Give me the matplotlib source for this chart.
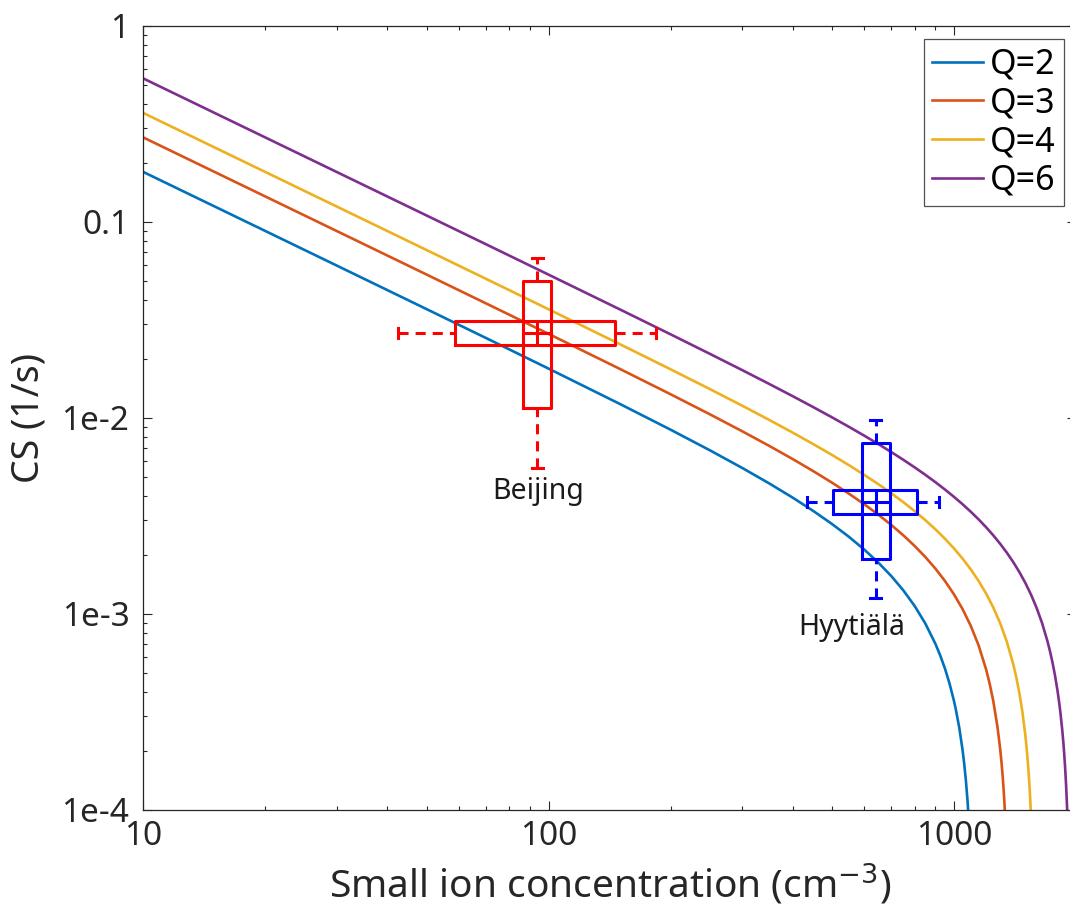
import matplotlib
matplotlib.use("Agg")
import matplotlib.pyplot as plt
from matplotlib.ticker import FixedLocator, LogLocator, NullFormatter

plt.rcParams['font.family'] = ['Noto Sans', 'DejaVu Sans']

# ---------------- data ----------------
n_q2 = [10, 15, 20, 30, 50, 70, 100, 150, 200, 250, 300, 350, 400, 450, 500, 550,
        600, 650, 700, 750, 800, 850, 900, 925, 950, 975, 1000, 1010, 1030, 1050,
        1060, 1070, 1080, 1090]
cs_q2 = [0.18, 0.11998, 0.08997, 0.05996, 0.03593, 0.025613, 0.017856, 0.011784,
         0.008712, 0.00684, 0.005568, 0.0046389, 0.003924, 0.003352, 0.00288,
         0.0024807, 0.002136, 0.0018332, 0.0015634, 0.00132, 0.001098, 0.0008936,
         0.000704, 0.0006139, 0.0005267, 0.0004422, 0.00036, 0.0003278, 0.0002644,
         0.0002023, 0.0001717, 0.0001414, 0.0001115, 0.0000818]

n_q3 = [10, 15, 20, 30, 50, 70, 100, 150, 200, 250, 300, 350, 400, 450, 500, 550,
        600, 650, 700, 750, 800, 850, 900, 950, 1000, 1050, 1100, 1150, 1200, 1225,
        1250, 1280, 1300, 1310, 1320, 1330, 1340]
cs_q3 = [0.26999, 0.17998, 0.13497, 0.08996, 0.05393, 0.03847, 0.026856, 0.017784,
         0.013212, 0.01044, 0.008568, 0.0072103, 0.006174, 0.005352, 0.00468,
         0.0041171, 0.003636, 0.0032178, 0.0028491, 0.00252, 0.002223, 0.0019525,
         0.001704, 0.0014741, 0.00126, 0.0010594, 0.0008705, 0.0006918, 0.000522,
         0.0004401, 0.00036, 0.0002662, 0.0002049, 0.0001747, 0.0001447, 0.0001149,
         0.0000853]

n_q4 = [10, 15, 20, 30, 50, 70, 100, 150, 200, 250, 300, 350, 400, 450, 500, 550,
        600, 650, 700, 750, 800, 850, 900, 950, 1000, 1050, 1100, 1150, 1200, 1250,
        1300, 1350, 1400, 1425, 1450, 1475, 1500, 1510, 1520, 1530, 1540, 1550]
cs_q4 = [0.35999, 0.23998, 0.17997, 0.11996, 0.07193, 0.051328, 0.035856, 0.023784,
         0.017712, 0.01404, 0.011568, 0.0097817, 0.008424, 0.007352, 0.00648,
         0.0057535, 0.005136, 0.0046025, 0.0041349, 0.00372, 0.003348, 0.0030113,
         0.002704, 0.0024215, 0.00216, 0.0019166, 0.0016887, 0.0014744, 0.001272,
         0.00108, 0.0008972, 0.0007227, 0.0005554, 0.0004743, 0.0003948, 0.0003167,
         0.00024, 0.0002097, 0.0001796, 0.0001497, 0.0001201, 0.0000906]

n_q6 = [10, 15, 20, 30, 50, 70, 100, 150, 200, 250, 300, 350, 400, 450, 500, 550,
        600, 650, 700, 750, 800, 850, 900, 950, 1000, 1050, 1100, 1150, 1200, 1250,
        1300, 1350, 1400, 1450, 1500, 1550, 1600, 1650, 1700, 1725, 1750, 1775, 1800,
        1815, 1830, 1850, 1860, 1870, 1880, 1890, 1900, 1910]
cs_q6 = [0.53999, 0.35998, 0.26997, 0.17996, 0.10793, 0.077042, 0.053856, 0.035784,
         0.026712, 0.02124, 0.017568, 0.0149246, 0.012924, 0.011352, 0.01008,
         0.0090262, 0.008136, 0.0073717, 0.0067063, 0.00612, 0.005598, 0.0051289,
         0.004704, 0.0043162, 0.00396, 0.0036309, 0.0033251, 0.0030397, 0.002772,
         0.00252, 0.0022818, 0.002056, 0.0018411, 0.0016361, 0.00144, 0.0012519,
         0.001071, 0.0008967, 0.0007285, 0.0006464, 0.0005657, 0.0004863, 0.000408,
         0.0003616, 0.0003156, 0.0002549, 0.0002248, 0.0001949, 0.0001651, 0.0001355,
         0.0001061, 0.0000768]

series_labels = ['Q=2', 'Q=3', 'Q=4', 'Q=6']
series_colors = ['#0072BD', '#D95319', '#EDB120', '#7E2F8E']

# station statistics: (whisker low, Q1, median, Q3, whisker high)
sites = ['Beijing', 'Hyytiälä']
site_n = {'Beijing': [42.6, 58.6, 93.8, 146.0, 184.0],
          'Hyytiälä': [433.0, 504.0, 642.0, 809.0, 918.0]}
site_cs = {'Beijing': [0.00556, 0.01125, 0.0271, 0.0502, 0.0655],
           'Hyytiälä': [0.0012, 0.0019, 0.00374, 0.00743, 0.00977]}
site_colors = {'Beijing': '#FF0000', 'Hyytiälä': '#0000FF'}
site_label_pos = {'Beijing': (94.0, 0.0042), 'Hyytiälä': (559.0, 0.000858)}

x_ticks = [10, 100, 1000]
x_ticklabels = ['10', '100', '1000']
y_ticks = [1e-4, 1e-3, 1e-2, 0.1, 1]
y_ticklabels = ['1e-4', '1e-3', '1e-2', '0.1', '1']

# ---------------- figure ----------------
W, H = 1070, 916
fig = plt.figure(figsize=(W / 100, H / 100), dpi=100)
left, right, top, bottom = 143.3, 1076, 26, 810
ax = fig.add_axes([left / W, 1 - bottom / H, (right - left) / W, (bottom - top) / H])
ax.set_xscale('log')
ax.set_yscale('log')
ax.set_xlim(10, 2000)
ax.set_ylim(1e-4, 1)

for xs, ys, lab, col in zip([n_q2, n_q3, n_q4, n_q6], [cs_q2, cs_q3, cs_q4, cs_q6],
                            series_labels, series_colors):
    ax.plot(xs, ys, color=col, lw=1.9, label=lab, solid_joinstyle='round')

# box/whisker crosses; sizes given in log-decades (styling only)
box_half_x = 10 ** (14.0 / 405.5)      # half-width of vertical box
box_half_y = 10 ** (12.0 / 196.0)      # half-height of horizontal box
cap_half_x = 10 ** (5.5 / 405.5)
cap_half_y = 10 ** (5.0 / 196.0)
dash = (0, (3.3, 2.3))
blw = 2.2

for s in sites:
    c = site_colors[s]
    nl, n1, nm, n3, nh = site_n[s]
    cl, c1, cm, c3, ch = site_cs[s]
    # vertical box (CS distribution) at median n
    xa, xb = nm / box_half_x, nm * box_half_x
    ax.plot([xa, xb, xb, xa, xa], [c1, c1, c3, c3, c1], color=c, lw=blw, zorder=5)
    ax.plot([xa, xb], [cm, cm], color=c, lw=blw, zorder=5)
    ax.plot([nm, nm], [c3, ch], color=c, lw=blw, ls=dash, zorder=5)
    ax.plot([nm, nm], [cl, c1], color=c, lw=blw, ls=dash, zorder=5)
    ax.plot([nm / cap_half_x, nm * cap_half_x], [ch, ch], color=c, lw=blw, zorder=5)
    ax.plot([nm / cap_half_x, nm * cap_half_x], [cl, cl], color=c, lw=blw, zorder=5)
    # horizontal box (n distribution) at median CS
    ya, yb = cm / box_half_y, cm * box_half_y
    ax.plot([n1, n3, n3, n1, n1], [ya, ya, yb, yb, ya], color=c, lw=blw, zorder=5)
    ax.plot([nm, nm], [ya, yb], color=c, lw=blw, zorder=5)
    ax.plot([nl, n1], [cm, cm], color=c, lw=blw, ls=dash, zorder=5)
    ax.plot([n3, nh], [cm, cm], color=c, lw=blw, ls=dash, zorder=5)
    ax.plot([nl, nl], [cm / cap_half_y, cm * cap_half_y], color=c, lw=blw, zorder=5)
    ax.plot([nh, nh], [cm / cap_half_y, cm * cap_half_y], color=c, lw=blw, zorder=5)
    lx, ly = site_label_pos[s]
    ax.text(lx, ly, s, ha='center', va='center', fontsize=20.5, color='#1a1a1a')

# axes styling
dark = '#262626'
for sp in ax.spines.values():
    sp.set_color(dark)
    sp.set_linewidth(0.9)
ax.xaxis.set_major_locator(FixedLocator(x_ticks))
ax.set_xticklabels(x_ticklabels)
ax.yaxis.set_major_locator(FixedLocator(y_ticks))
ax.set_yticklabels(y_ticklabels)
ax.xaxis.set_minor_locator(LogLocator(base=10, subs=range(2, 10)))
ax.yaxis.set_minor_locator(LogLocator(base=10, subs=range(2, 10)))
ax.xaxis.set_minor_formatter(NullFormatter())
ax.yaxis.set_minor_formatter(NullFormatter())
ax.tick_params(which='both', direction='in', top=True, right=True, colors=dark,
               width=0.8)
ax.tick_params(which='major', length=6.5, labelsize=24)
ax.tick_params(which='minor', length=3)
ax.tick_params(axis='y', which='major', pad=10)
ax.tick_params(axis='x', which='major', pad=7)

ax.set_xlabel('Small ion concentration (cm$^{-3}$)', fontsize=28, color=dark,
              labelpad=6)
ax.set_ylabel('CS (1/s)', fontsize=27, color=dark, labelpad=10)

leg = ax.legend(loc='upper right', bbox_to_anchor=(1064 / W, 1 - 39 / H),
                bbox_transform=fig.transFigure, fontsize=24.5, frameon=True,
                fancybox=False, edgecolor=dark, borderaxespad=0, borderpad=0.25,
                handlelength=1.5, handletextpad=0.2, labelspacing=0.14)
leg.get_frame().set_linewidth(0.9)

fig.savefig('out.png', dpi=100)
